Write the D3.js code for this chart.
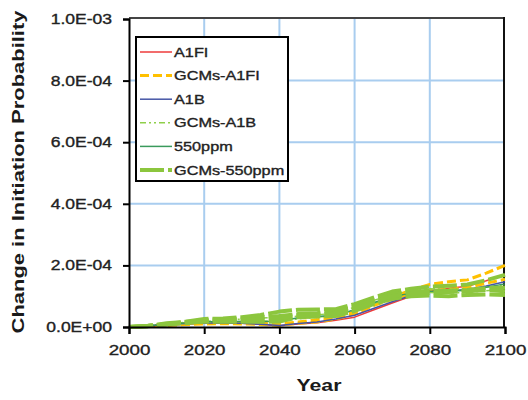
<!DOCTYPE html>
<html>
<head>
<meta charset="utf-8">
<script src="https://cdn.jsdelivr.net/npm/d3@7"></script>
<style>
  html, body { margin: 0; padding: 0; background: #fff; }
  svg { display: block; font-family: "Liberation Sans", Arial, sans-serif; }
</style>
</head>
<body>
<svg id="chart" width="528" height="400"></svg>
<script>
// Years sampled every 5 years
const years = [2000, 2005, 2010, 2015, 2020, 2025, 2030, 2035, 2040, 2045, 2050,
               2055, 2060, 2065, 2070, 2075, 2080, 2085, 2090, 2095, 2100];

// Change in initiation probability, in units of 1e-5
const UNIT = 1e-5;
const a1fi     = [0, 0.2, 0.5, 0.9, 1.2, 1.2, 1.2, 0.8, 0.4, 1.0, 1.4, 2.2, 3.2, 5.5, 7.8, 10.0, 11.8, 12.6, 13.2, 15.0, 17.0];
const gcmA1fi1 = [0, 0.2, 0.5, 0.8, 1.0, 1.1, 1.0, 0.8, 0.6, 1.2, 1.6, 2.6, 4.2, 7.0, 9.6, 12.0, 13.8, 14.7, 15.3, 17.5, 20.0];
const gcmA1fi2 = [0, 0.3, 0.7, 1.1, 1.4, 1.5, 1.5, 1.3, 1.1, 1.6, 2.4, 3.4, 4.8, 7.0, 9.0, 10.8, 11.8, 12.2, 12.8, 14.2, 15.5];
const a1b      = [0, 0.4, 0.8, 1.1, 1.3, 1.3, 1.2, 0.9, 0.5, 1.1, 1.6, 2.6, 3.8, 6.0, 8.2, 10.2, 11.4, 11.8, 12.2, 13.3, 14.7];
const gcmA1b1  = [0, 0.5, 1.0, 1.5, 1.8, 2.2, 2.6, 2.9, 3.2, 3.5, 3.9, 4.6, 6.4, 8.6, 10.6, 11.8, 12.4, 12.2, 12.4, 13.0, 13.6];
const gcmA1b2  = [0, 0.3, 0.7, 1.2, 1.5, 1.7, 1.8, 1.9, 2.0, 2.6, 3.2, 3.8, 5.4, 7.6, 9.6, 10.8, 11.2, 11.0, 11.2, 11.8, 12.2];
const ppm550   = [0, 0.4, 0.9, 1.3, 1.7, 1.8, 1.8, 1.8, 1.9, 3.0, 3.4, 3.8, 5.6, 7.9, 9.8, 11.0, 11.6, 11.6, 11.9, 12.9, 14.0];
const gcm550a  = [0, 0.3, 1.2, 1.7, 2.6, 2.8, 3.2, 3.9, 5.0, 5.6, 5.7, 5.8, 7.4, 9.5, 11.5, 12.4, 13.1, 13.4, 13.8, 15.2, 16.9];
const gcm550b  = [0, 0.3, 0.9, 1.5, 1.7, 1.7, 1.7, 1.7, 1.8, 3.2, 3.4, 3.6, 5.2, 7.4, 9.2, 10.0, 10.2, 10.0, 10.4, 10.6, 10.4];
const gcm550c  = [0, 0.4, 1.0, 1.6, 2.2, 2.5, 2.8, 3.2, 3.6, 4.2, 4.5, 5.0, 6.6, 8.8, 10.6, 11.4, 11.8, 11.8, 12.0, 12.6, 12.8];
const gcm550d  = [0, 0.2, 0.8, 1.2, 1.9, 2.2, 2.4, 2.6, 2.8, 3.8, 4.0, 4.6, 6.0, 8.0, 10.0, 11.0, 11.0, 11.4, 11.6, 12.0, 11.6];

// Axis ticks
const xTicks = [2000, 2020, 2040, 2060, 2080, 2100];
const yTicks = [0, 2e-4, 4e-4, 6e-4, 8e-4, 1e-3];
const yTickLabels = ["0.0E+00", "2.0E-04", "4.0E-04", "6.0E-04", "8.0E-04", "1.0E-03"];

// Legend entries and the runs belonging to each
const seriesNames = ["A1FI", "GCMs-A1FI", "A1B", "GCMs-A1B", "550ppm", "GCMs-550ppm"];
const seriesRuns  = [[a1fi], [gcmA1fi1, gcmA1fi2], [a1b], [gcmA1b1, gcmA1b2], [ppm550],
                     [gcm550a, gcm550b, gcm550c, gcm550d]];

const styles = {
  "A1FI":        { color: "#ee3b3b", width: 1.5, dash: null },
  "GCMs-A1FI":   { color: "#ffc000", width: 3,   dash: "9,4" },
  "A1B":         { color: "#4656a6", width: 1.5, dash: null },
  "GCMs-A1B":    { color: "#8fcf4a", width: 1.5, dash: "6,3,2,3,2,3" },
  "550ppm":      { color: "#3a9a5c", width: 1.5, dash: null },
  "GCMs-550ppm": { color: "#8cc63e", width: 4,   dash: "24,4" }
};

const svg = d3.select("#chart");
const plotLeft = 129, plotRight = 505, plotTop = 19, plotBottom = 327;
const STRETCH = 1.25;

const x = d3.scaleLinear().domain([2000, 2100]).range([plotLeft, plotRight]);
const y = d3.scaleLinear().domain([0, 1e-3]).range([plotBottom, plotTop]);

// widen text horizontally and give it a slightly heavier stroke
function widen(sel, k) {
  sel.each(function () {
    const len = this.getComputedTextLength();
    d3.select(this).attr("textLength", len * k).attr("lengthAdjust", "spacingAndGlyphs");
  });
}
function heavy(sel) {
  sel.attr("stroke", "#222").attr("stroke-width", 0.35);
}

// Grid lines
const grid = svg.append("g");
grid.selectAll("line.gx").data(xTicks.slice(1, -1)).join("line")
  .attr("x1", d => x(d)).attr("x2", d => x(d))
  .attr("y1", plotTop).attr("y2", plotBottom)
  .attr("stroke", "#a9cdef").attr("stroke-width", 2);
grid.selectAll("line.gy").data(yTicks.slice(1, -1)).join("line")
  .attr("x1", plotLeft).attr("x2", plotRight)
  .attr("y1", d => y(d)).attr("y2", d => y(d))
  .attr("stroke", "#a9cdef").attr("stroke-width", 2);

// Frame top and right
svg.append("line").attr("x1", plotLeft).attr("x2", plotRight).attr("y1", plotTop - 1).attr("y2", plotTop - 1)
  .attr("stroke", "#444").attr("stroke-width", 2);
svg.append("line").attr("x1", plotRight - 1).attr("x2", plotRight - 1).attr("y1", plotTop - 2).attr("y2", plotBottom)
  .attr("stroke", "#111").attr("stroke-width", 2);

// Data lines
const line = d3.line().x((d, i) => x(years[i])).y(d => y(d * UNIT));
const lines = svg.append("g").attr("fill", "none");
seriesNames.forEach((name, si) => {
  const st = styles[name];
  seriesRuns[si].forEach(run => {
    lines.append("path").datum(run)
      .attr("d", line)
      .attr("stroke", st.color)
      .attr("stroke-width", st.width)
      .attr("stroke-dasharray", st.dash)
      .attr("stroke-linejoin", "round");
  });
});

// Axes
const xAxis = d3.axisBottom(x).tickValues(xTicks).tickFormat(d3.format("d")).tickSize(7).tickPadding(10);
const gx = svg.append("g").attr("transform", `translate(0,${plotBottom})`).call(xAxis);
gx.select(".domain").attr("stroke", "#000").attr("stroke-width", 2);
gx.selectAll(".tick line").attr("stroke", "#000").attr("stroke-width", 2);
gx.selectAll(".tick text").attr("font-size", 15).attr("fill", "#222")
  .attr("font-family", "Liberation Sans, Arial, sans-serif").call(heavy).call(widen, STRETCH);

const yAxis = d3.axisLeft(y).tickValues(yTicks).tickFormat((d, i) => yTickLabels[i]).tickSize(6).tickPadding(11);
const gy = svg.append("g").attr("transform", `translate(${plotLeft},0)`).call(yAxis);
gy.select(".domain").attr("stroke", "#000").attr("stroke-width", 2);
gy.selectAll(".tick line").attr("stroke", "#000").attr("stroke-width", 2);
gy.selectAll(".tick text").attr("font-size", 14).attr("fill", "#222")
  .attr("font-family", "Liberation Sans, Arial, sans-serif").call(heavy).call(widen, STRETCH);

// Axis titles
svg.append("text").attr("x", (plotLeft + plotRight) / 2 + 2).attr("y", 391)
  .attr("text-anchor", "middle").attr("font-size", 17).attr("font-weight", "bold").attr("fill", "#1a1a1a")
  .text("Year").call(widen, STRETCH);
svg.append("text").attr("transform", `translate(24,${(plotTop + plotBottom) / 2 - 1}) rotate(-90)`)
  .attr("text-anchor", "middle").attr("font-size", 17).attr("font-weight", "bold").attr("fill", "#1a1a1a")
  .text("Change in Initiation Probability").call(widen, 1.29);

// Legend
const lg = svg.append("g");
lg.append("rect").attr("x", 136).attr("y", 37).attr("width", 152).attr("height", 144)
  .attr("fill", "#fff").attr("stroke", "#000").attr("stroke-width", 2);
const rowY = d3.scalePoint().domain(seriesNames).range([52, 170]);
seriesNames.forEach(name => {
  const st = styles[name];
  const yy = rowY(name);
  lg.append("line").attr("x1", 140).attr("x2", 172).attr("y1", yy).attr("y2", yy)
    .attr("stroke", st.color).attr("stroke-width", st.width).attr("stroke-dasharray", st.dash);
  lg.append("text").attr("x", 174).attr("y", yy).attr("dy", "0.35em")
    .attr("font-size", 13).attr("fill", "#222").text(name).call(heavy).call(widen, STRETCH);
});
</script>
</body>
</html>
